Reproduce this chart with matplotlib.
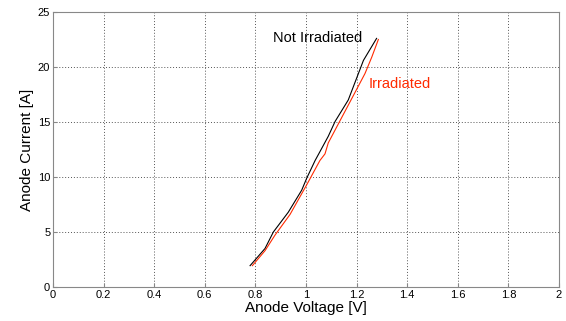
import matplotlib
matplotlib.use("Agg")
import matplotlib.pyplot as plt

plt.rcParams['font.family'] = ['Liberation Sans', 'DejaVu Sans']

v_not = [0.779, 0.838, 0.871, 0.930, 0.983, 1.003, 1.036, 1.055, 1.088, 1.115, 1.167, 1.207, 1.227, 1.279]
i_not = [1.94, 3.5, 5.0, 6.8, 8.8, 9.9, 11.5, 12.3, 13.7, 15.05, 17.0, 19.4, 20.6, 22.6]
v_irr = [0.788, 0.838, 0.877, 0.937, 1.003, 1.055, 1.075, 1.088, 1.141, 1.194, 1.233, 1.260, 1.286]
i_irr = [1.94, 3.3, 4.7, 6.6, 9.3, 11.5, 12.1, 13.1, 15.4, 17.7, 19.4, 20.9, 22.5]
xticks = [0, 0.2, 0.4, 0.6, 0.8, 1, 1.2, 1.4, 1.6, 1.8, 2]
xticklabels = ['0', '0.2', '0.4', '0.6', '0.8', '1', '1.2', '1.4', '1.6', '1.8', '2']
yticks = [0, 5, 10, 15, 20, 25]

fig = plt.figure(figsize=(5.66, 3.21), dpi=100)
ax = fig.add_axes([53/566, 1-287/321, (559-53)/566, (287-12)/321])
ax.plot(v_not, i_not, color='black', lw=0.8)
ax.plot(v_irr, i_irr, color='#ff2a00', lw=0.8)
ax.set_xlim(0, 2)
ax.set_ylim(0, 25)
ax.set_xticks(xticks)
ax.set_xticklabels(xticklabels)
ax.set_yticks(yticks)
ax.grid(True, linestyle=(0, (1, 2)), color='#555555', lw=0.7)
for s in ax.spines.values():
    s.set_color('#888888')
    s.set_linewidth(0.8)
ax.tick_params(labelsize=8, direction='in', length=3, color='#888888', pad=2)
ax.set_xlabel('Anode Voltage [V]', fontsize=11, labelpad=1)
ax.set_ylabel('Anode Current [A]', fontsize=11, labelpad=3)
ax.text(1.047, 22.6, 'Not Irradiated', color='black', fontsize=10.5, ha='center', va='center')
ax.text(1.247, 18.5, 'Irradiated', color='#ff2a00', fontsize=10.5, ha='left', va='center')
fig.savefig('out.png', dpi=100)
